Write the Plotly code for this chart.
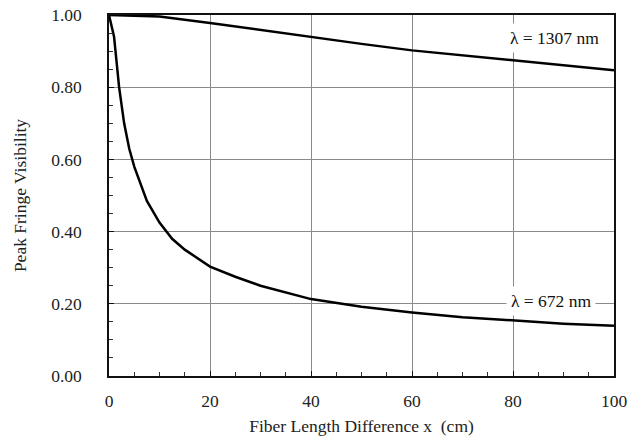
import plotly.graph_objects as go

x_1307 = [0, 5, 10, 20, 30, 40, 50, 60, 70, 80, 90, 100]
v_1307 = [1.0, 0.999, 0.996, 0.978, 0.958, 0.939, 0.920, 0.902, 0.888, 0.874, 0.860, 0.847]

x_672 = [0, 1, 2, 3, 4, 5, 7.5, 10, 12.5, 15, 20, 25, 30, 40, 50, 60, 70, 80, 90, 100]
v_672 = [1.0, 0.94, 0.80, 0.70, 0.63, 0.58, 0.485, 0.425, 0.38, 0.35, 0.303, 0.275, 0.25,
         0.213, 0.192, 0.176, 0.163, 0.153, 0.145, 0.139]

labels = ["λ = 1307 nm", "λ = 672 nm"]
label_x = [88.3, 87.5]
label_y = [0.935, 0.208]

x_ticks = [0, 20, 40, 60, 80, 100]
y_ticks = [0.0, 0.2, 0.4, 0.6, 0.8, 1.0]
y_ticktext = ["0.00", "0.20", "0.40", "0.60", "0.80", "1.00"]

FONT = "Liberation Serif"
FS = 17.5

fig = go.Figure()
fig.add_trace(go.Scatter(x=x_1307, y=v_1307, mode="lines",
                         line=dict(color="black", width=2.5), showlegend=False))
fig.add_trace(go.Scatter(x=x_672, y=v_672, mode="lines",
                         line=dict(color="black", width=2.5), showlegend=False))

for t, lx, ly in zip(labels, label_x, label_y):
    fig.add_annotation(x=lx, y=ly, text=t, showarrow=False,
                       font=dict(family=FONT, size=FS, color="#111"),
                       bgcolor="white", borderpad=4)

axis_common = dict(
    showline=True, linecolor="#111", linewidth=1.5, mirror=True,
    showgrid=True, gridcolor="#8a8a8a", gridwidth=1,
    ticks="inside", ticklen=5, tickcolor="#111",
    tickfont=dict(family=FONT, size=FS, color="#222"),
    zeroline=False, automargin=False,
)

fig.update_xaxes(range=[0, 100], tickvals=x_ticks,
                 minor=dict(dtick=5, ticks="inside", ticklen=4, tickcolor="#333", showgrid=False),
                 title=dict(text="Fiber Length Difference x  (cm)",
                            font=dict(family=FONT, size=FS, color="#222"), standoff=10),
                 ticklabelstandoff=8,
                 **axis_common)
fig.update_yaxes(range=[0, 1], tickvals=y_ticks, ticktext=y_ticktext,
                 minor=dict(dtick=0.05, ticks="inside", ticklen=4, tickcolor="#333", showgrid=False),
                 title=dict(text="Peak Fringe Visibility",
                            font=dict(family=FONT, size=FS, color="#222"), standoff=20),
                 ticklabelstandoff=22,
                 **axis_common)

fig.update_layout(
    width=638, height=440,
    margin=dict(l=109, r=24, t=15, b=64),
    paper_bgcolor="white", plot_bgcolor="white",
)

fig.write_html("out.html")
